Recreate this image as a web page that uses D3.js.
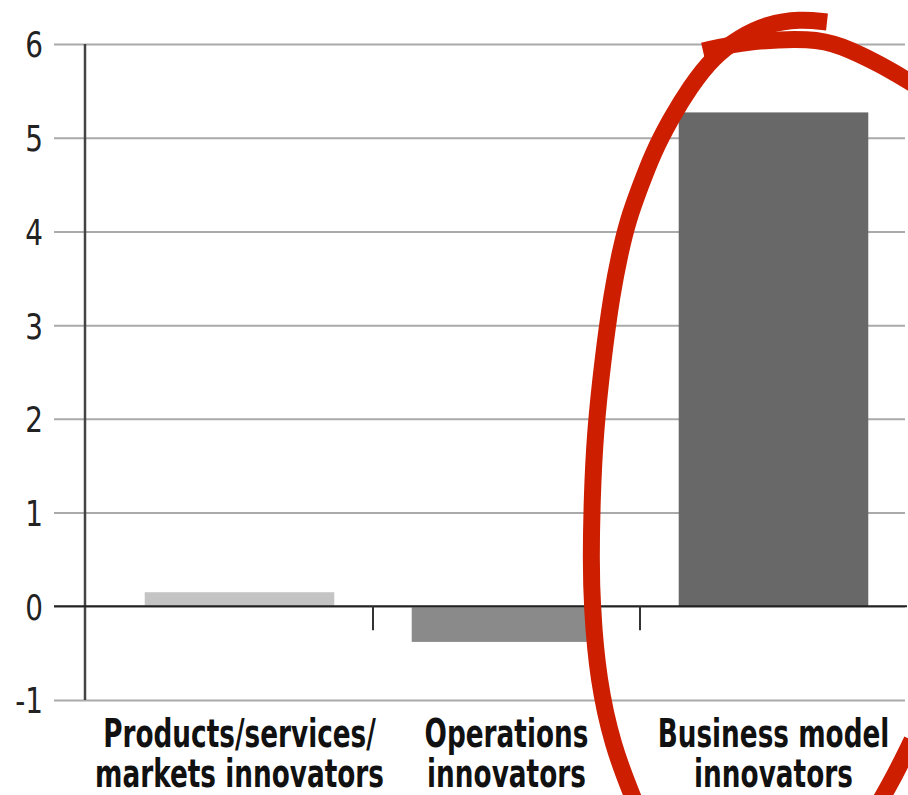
<!DOCTYPE html>
<html>
<head>
<meta charset="utf-8">
<script src="https://cdn.jsdelivr.net/npm/d3@7"></script>
<style>
  html, body { margin: 0; padding: 0; background: #fff; }
  svg { display: block; }
  .ytick text { font-family: "Liberation Sans Narrow", "DejaVu Sans Condensed", sans-serif; font-size: 36px; fill: #222; }
  .xlabel { font-family: "Liberation Sans Narrow", "DejaVu Sans Condensed", sans-serif; font-weight: bold; font-size: 39px; fill: #111; }
</style>
</head>
<body>
<svg id="chart" width="908" height="795"></svg>
<script>
// Categories and their values
const categories = [
  ["Products/services/", "markets innovators"],
  ["Operations", "innovators"],
  ["Business model", "innovators"]
];
const values = [0.15, -0.38, 5.27];
const barColors = ["#c4c4c4", "#8a8a8a", "#686868"];
const yTicks = [-1, 0, 1, 2, 3, 4, 5, 6];

// Highlight loop drawn around the business-model bar:
// dx = offset from the band centre (px), y = value units
const loopTop = [
  [-70.5, 5.925], [-26.5, 6.032], [39.5, 6.064], [66.5, 5.989],
  [106.5, 5.787], [141.5, 5.562]
];
const loopSide = [
  [53.5, 6.235], [26.5, 6.267], [-6.5, 6.213], [-33.5, 6.075], [-60.5, 5.861],
  [-83.5, 5.541], [-103.5, 5.189], [-120.5, 4.837], [-133.5, 4.474],
  [-145.5, 4.122], [-153.5, 3.770], [-161.5, 3.343], [-170.5, 2.649],
  [-178.5, 1.849], [-181.5, 1.134], [-182.5, 0.494], [-181.5, -0.008],
  [-175.5, -0.787], [-160.5, -1.502], [-141.5, -2.014], [-133.5, -2.227]
];
const loopBottom = [[104.5, -2.12], [121.5, -1.80], [138.5, -1.43]];

const svg = d3.select("#chart");

const y = d3.scaleLinear().domain([-1, 6]).range([700, 44]);
const x = d3.scaleBand()
  .domain(d3.range(categories.length))
  .range([106, 907])
  .paddingInner(0.29)
  .paddingOuter(0.145);

// Horizontal gridlines with y tick labels (plain hyphen for negatives)
const yAxis = d3.axisLeft(y)
  .tickValues(yTicks)
  .tickSize(-(905 - 54))
  .tickPadding(10)
  .tickFormat(d => String(d));

const yg = svg.append("g")
  .attr("transform", "translate(54,0)")
  .call(yAxis);
yg.select(".domain").remove();
yg.selectAll(".tick").attr("class", "tick ytick");
yg.selectAll(".tick line").attr("stroke", "#aaa").attr("stroke-width", 2);
yg.selectAll(".tick text")
  .attr("dy", "0.36em")
  .attr("x", -11 / 0.86)
  .attr("transform", "scale(0.86,1)");

// Bars
svg.append("g").selectAll("rect")
  .data(values)
  .join("rect")
  .attr("x", (d, i) => x(i))
  .attr("width", x.bandwidth())
  .attr("y", d => y(Math.max(0, d)))
  .attr("height", d => Math.abs(y(d) - y(0)))
  .attr("fill", (d, i) => barColors[i]);

// Vertical axis line
svg.append("line")
  .attr("x1", 85).attr("x2", 85)
  .attr("y1", y(6)).attr("y2", y(-1))
  .attr("stroke", "#444").attr("stroke-width", 2.5);

// Zero baseline
svg.append("line")
  .attr("x1", 54).attr("x2", 907)
  .attr("y1", y(0)).attr("y2", y(0))
  .attr("stroke", "#222").attr("stroke-width", 2);

// Category separator ticks below the baseline
const seps = d3.range(1, categories.length).map(i => x(i) - x.step() * x.paddingInner() / 2);
svg.append("g").selectAll("line")
  .data(seps)
  .join("line")
  .attr("x1", d => d).attr("x2", d => d)
  .attr("y1", y(0)).attr("y2", y(0) + 24)
  .attr("stroke", "#333").attr("stroke-width", 2);

// Category labels, two lines each, condensed
const labels = svg.append("g").selectAll("text")
  .data(categories)
  .join("text")
  .attr("class", "xlabel")
  .attr("text-anchor", "middle")
  .attr("transform", (d, i) => `translate(${x(i) + x.bandwidth() / 2},0) scale(0.75,1)`);
labels.selectAll("tspan")
  .data(d => d)
  .join("tspan")
  .attr("x", 0)
  .attr("y", (d, j) => 747 + j * 40)
  .text(d => d);

// Red highlight loop
const cx = x(2) + x.bandwidth() / 2;
const line = d3.line()
  .x(d => cx + d[0])
  .y(d => y(d[1]))
  .curve(d3.curveBasis);
const red = "#cd1e00";
[loopTop, loopSide, loopBottom].forEach(pts => {
  svg.append("path")
    .attr("d", line(pts))
    .attr("fill", "none")
    .attr("stroke", red)
    .attr("stroke-width", 17)
    .attr("stroke-linecap", "butt");
});
</script>
</body>
</html>
